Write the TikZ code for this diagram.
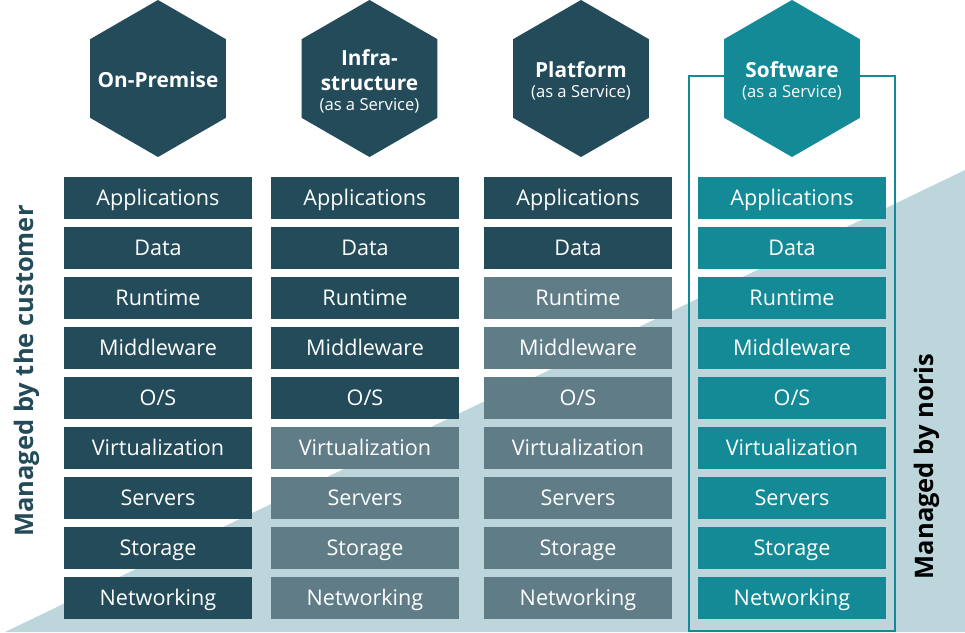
\documentclass[tikz,border=0pt]{standalone}
\usepackage{fontspec}
\setmainfont{Open Sans}
\usetikzlibrary{shapes.geometric}
\definecolor{cdark}{HTML}{234B5A}
\definecolor{cgray}{HTML}{5F7C87}
\definecolor{cteal}{HTML}{138A95}
\definecolor{clight}{HTML}{BDD6DC}
\tikzset{
  layerbox/.style={rectangle, minimum width=188pt, minimum height=42pt, inner sep=0pt,
    text=white, text height=15.6pt, text depth=0pt, font=\fontsize{21.6}{25}\selectfont},
  hexnode/.style={regular polygon, regular polygon sides=6, shape border rotate=30,
    minimum size=157pt, inner sep=0pt},
  hextext/.style={inner sep=0pt, text=white, align=center,
    font=\bfseries\fontsize{20.8}{25}\selectfont},
  sidelabel/.style={rotate=90, anchor=base, inner sep=0pt, font=\bfseries\fontsize{25.5}{30}\selectfont}
}
\newcommand{\svc}{\\[-5pt]{\normalfont\fontsize{16.6}{19}\selectfont(as a Service)}}
\begin{document}
\begin{tikzpicture}[x=1pt,y=-1pt]
\useasboundingbox (0,0) rectangle (965,632);
% background triangle
\fill[clight] (5,632) -- (965,170) -- (965,632) -- cycle;
% outline of SaaS column
\draw[cteal, line width=1.5pt] (689,76) rectangle (895,631);
% layer boxes
\foreach \name [count=\i from 0] in {Applications,Data,Runtime,Middleware,O/S,Virtualization,Servers,Storage,Networking}{
  \node[layerbox, fill=cdark] (a\i) at (158,{198+50*\i}) {\name};
  \pgfmathsetmacro{\cb}{\i<5 ? 1 : 0}
  \ifdim\cb pt>0.5pt
    \node[layerbox, fill=cdark] (b\i) at (365,{198+50*\i}) {\name};
  \else
    \node[layerbox, fill=cgray] (b\i) at (365,{198+50*\i}) {\name};
  \fi
  \pgfmathsetmacro{\cc}{\i<2 ? 1 : 0}
  \ifdim\cc pt>0.5pt
    \node[layerbox, fill=cdark] (c\i) at (578,{198+50*\i}) {\name};
  \else
    \node[layerbox, fill=cgray] (c\i) at (578,{198+50*\i}) {\name};
  \fi
  \node[layerbox, fill=cteal] (d\i) at (792,{198+50*\i}) {\name};
}
% hexagons
\node[hexnode, fill=cdark] (h1) at (158,78.5) {};
\node[hexnode, fill=cdark] (h2) at (369.5,78.5) {};
\node[hexnode, fill=cdark] (h3) at (581,78.5) {};
\node[hexnode, fill=cteal] (h4) at (792,78.5) {};
\node[hextext] (t1) at ([yshift=-1pt]h1.center) {On-Premise};
\node[hextext] (t2) at ([yshift=-3pt]h2.center) {Infra-\\structure\svc};
\node[hextext] (t3) at ([yshift=-2pt]h3.center) {Platform\svc};
\node[hextext] (t4) at ([yshift=-2pt]h4.center) {Software\svc};
% side labels
\node[sidelabel, text=cdark] (lc) at (33.5,371) {Managed by the customer};
\node[sidelabel, text=black] (ln) at (933,466.5) {Managed by noris};
\end{tikzpicture}
\end{document}
